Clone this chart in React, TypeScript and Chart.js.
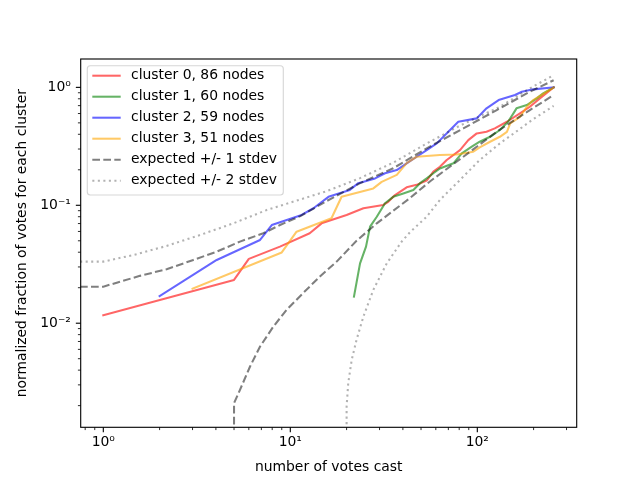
import React, { useEffect, useRef } from 'react';
import { Chart, registerables } from 'chart.js';

Chart.register(...registerables);

// === Data (x = votes cast, y = normalized fraction) ===
const CLUSTER_LABELS = [
  'cluster 0, 86 nodes',
  'cluster 1, 60 nodes',
  'cluster 2, 59 nodes',
  'cluster 3, 51 nodes',
];
const EXPECTED_LABELS = ['expected +/- 1 stdev', 'expected +/- 2 stdev'];

const C0_X = [1, 5, 6, 8.8, 12.7, 14.7, 20, 24.6, 31.4, 33.4, 36.3, 41.9, 47.4, 53.6, 58.2, 63.1, 68.6, 80.8, 89.5, 99.3, 112, 124, 144, 169, 191, 216, 256];
const C0_Y = [0.0117, 0.0233, 0.0351, 0.0446, 0.0579, 0.0703, 0.0828, 0.0944, 0.1006, 0.107, 0.122, 0.142, 0.149, 0.162, 0.193, 0.212, 0.242, 0.294, 0.357, 0.407, 0.42, 0.449, 0.511, 0.602, 0.685, 0.807, 1.0];

const C1_X = [21.9, 23.6, 25.4, 26.7, 29.0, 32.1, 35.5, 40.2, 45.5, 49.4, 53.6, 58.2, 63.1, 74.5, 82.6, 93.4, 103, 117, 132, 146, 156, 162, 184, 208, 225, 256];
const C1_Y = [0.0168, 0.0322, 0.0446, 0.0659, 0.08, 0.104, 0.118, 0.126, 0.135, 0.154, 0.169, 0.187, 0.205, 0.227, 0.276, 0.314, 0.346, 0.381, 0.435, 0.511, 0.602, 0.664, 0.708, 0.807, 0.889, 1.0];

const C2_X = [2, 4.04, 6.89, 7.96, 11.5, 13.3, 16.0, 20.8, 23.1, 28.4, 32.1, 37.1, 41.9, 47.4, 53.6, 60.7, 70.0, 79.1, 99.3, 112, 130, 159, 173, 199, 256];
const C2_Y = [0.017, 0.0344, 0.0508, 0.068, 0.0828, 0.0944, 0.118, 0.135, 0.154, 0.169, 0.187, 0.199, 0.227, 0.258, 0.294, 0.335, 0.42, 0.511, 0.546, 0.664, 0.78, 0.861, 0.918, 0.962, 1.0];

const C3_X = [3, 9.0, 10.8, 16.6, 18.8, 27.8, 30.8, 37.1, 41.9, 47.4, 63.1, 77.6, 95.2, 103, 117, 132, 144, 150, 169, 184, 199, 235, 256];
const C3_Y = [0.0196, 0.0398, 0.0597, 0.0776, 0.118, 0.139, 0.158, 0.181, 0.228, 0.258, 0.267, 0.27, 0.285, 0.31, 0.346, 0.381, 0.42, 0.495, 0.563, 0.685, 0.78, 0.918, 1.0];

const SD1_UP_X = [0.5, 1, 1.23, 1.57, 2.18, 3.03, 4.04, 5.38, 7.17, 8.81, 11.3, 15.7, 23.6, 35.5, 53.6, 84.2, 127, 191, 256];
const SD1_UP_Y = [0.0204, 0.0204, 0.0225, 0.0252, 0.0287, 0.0344, 0.0404, 0.0492, 0.0579, 0.068, 0.081, 0.109, 0.154, 0.206, 0.304, 0.449, 0.642, 0.918, 1.15];

const SD1_LO_X = [5, 5, 5.38, 6.09, 6.89, 8.11, 9.56, 11.7, 14.4, 17.7, 22.6, 29.0, 43.6, 56, 84.2, 127, 191, 256];
const SD1_LO_Y = [0.0002, 0.0021, 0.00272, 0.00429, 0.00634, 0.00935, 0.013, 0.018, 0.0249, 0.0333, 0.05, 0.0703, 0.115, 0.16, 0.258, 0.42, 0.642, 0.86];

const SD2_UP_X = [0.5, 1, 1.45, 2.18, 3.29, 4.96, 7.48, 11.3, 15.7, 23.6, 35.5, 53.6, 80, 132, 190, 256];
const SD2_UP_Y = [0.0333, 0.0333, 0.0379, 0.0452, 0.056, 0.0703, 0.0912, 0.112, 0.132, 0.17, 0.23, 0.334, 0.47, 0.685, 0.975, 1.27];

const SD2_LO_X = [20, 20, 20.4, 21.3, 22.6, 24.6, 27.8, 32.8, 39.4, 43.6, 53.6, 63.1, 80.8, 103, 132, 156, 200, 256];
const SD2_LO_Y = [0.0002, 0.00196, 0.0031, 0.00489, 0.00722, 0.0114, 0.0192, 0.0322, 0.0492, 0.059, 0.08, 0.111, 0.164, 0.242, 0.335, 0.405, 0.54, 0.695];

// === Ticks ===
const X_MAJOR = [1, 10, 100];
const X_MAJOR_LABELS = ['10⁰', '10¹', '10²'];
const X_MINOR = [0.8, 0.9, 2, 3, 4, 5, 6, 7, 8, 9, 20, 30, 40, 50, 60, 70, 80, 90, 200, 300];
const Y_MAJOR = [0.01, 0.1, 1];
const Y_MAJOR_LABELS = ['10⁻²', '10⁻¹', '10⁰'];
const Y_MINOR = [
  0.002, 0.003, 0.004, 0.005, 0.006, 0.007, 0.008, 0.009,
  0.02, 0.03, 0.04, 0.05, 0.06, 0.07, 0.08, 0.09,
  0.2, 0.3, 0.4, 0.5, 0.6, 0.7, 0.8, 0.9,
];

// === Styles ===
const FONT = 'DejaVu Sans';
const FS = 13.9;
const LW = 2.08;
const CLUSTER_COLORS = ['rgba(255,0,0,0.6)', 'rgba(0,128,0,0.6)', 'rgba(0,0,255,0.6)', 'rgba(255,165,0,0.6)'];
const DASHED = { color: 'rgba(0,0,0,0.5)', dash: [7.7, 3.3] };
const DOTTED = { color: 'rgba(0,0,0,0.3)', dash: [2.08, 3.44] };

const xy = (xs: number[], ys: number[]) => xs.map((x, i) => ({ x, y: ys[i] }));

const labelFor = (v: number, majors: number[], labels: string[]) => {
  const i = majors.findIndex(m => Math.abs(m - v) < m * 1e-6);
  return i >= 0 ? labels[i] : '';
};

// ticks, frame and legend, drawn like matplotlib
const axesDecor = {
  id: 'axesDecor',
  afterDraw(chart: any) {
    const { ctx, chartArea: a, scales } = chart;
    ctx.save();
    ctx.strokeStyle = '#000';

    const xTick = (v: number, len: number, w: number) => {
      const px = scales.x.getPixelForValue(v);
      ctx.lineWidth = w;
      ctx.beginPath();
      ctx.moveTo(px, a.bottom);
      ctx.lineTo(px, a.bottom + len);
      ctx.stroke();
    };
    const yTick = (v: number, len: number, w: number) => {
      const py = scales.y.getPixelForValue(v);
      ctx.lineWidth = w;
      ctx.beginPath();
      ctx.moveTo(a.left, py);
      ctx.lineTo(a.left - len, py);
      ctx.stroke();
    };
    X_MAJOR.forEach(v => xTick(v, 4.86, 1.11));
    X_MINOR.forEach(v => xTick(v, 2.78, 0.83));
    Y_MAJOR.forEach(v => yTick(v, 4.86, 1.11));
    Y_MINOR.forEach(v => yTick(v, 2.78, 0.83));

    // legend
    const bx = a.left + 6.6;
    const by = a.top + 6.7;
    const bw = 196;
    const bh = 129.3;
    const r = 3;
    ctx.beginPath();
    ctx.moveTo(bx + r, by);
    ctx.lineTo(bx + bw - r, by);
    ctx.quadraticCurveTo(bx + bw, by, bx + bw, by + r);
    ctx.lineTo(bx + bw, by + bh - r);
    ctx.quadraticCurveTo(bx + bw, by + bh, bx + bw - r, by + bh);
    ctx.lineTo(bx + r, by + bh);
    ctx.quadraticCurveTo(bx, by + bh, bx, by + bh - r);
    ctx.lineTo(bx, by + r);
    ctx.quadraticCurveTo(bx, by, bx + r, by);
    ctx.closePath();
    ctx.fillStyle = 'rgba(255,255,255,0.8)';
    ctx.fill();
    ctx.lineWidth = 1.11;
    ctx.strokeStyle = 'rgba(204,204,204,0.8)';
    ctx.stroke();

    const items = [
      ...CLUSTER_LABELS.map((label, i) => ({ label, color: CLUSTER_COLORS[i], dash: [] as number[] })),
      { label: EXPECTED_LABELS[0], ...DASHED },
      { label: EXPECTED_LABELS[1], ...DOTTED },
    ];
    ctx.font = `${FS}px "${FONT}"`;
    ctx.textBaseline = 'middle';
    ctx.textAlign = 'left';
    items.forEach((it, i) => {
      const ry = by + 10 + 21 * i;
      ctx.strokeStyle = it.color;
      ctx.lineWidth = LW;
      ctx.setLineDash(it.dash);
      ctx.lineCap = 'butt';
      ctx.beginPath();
      ctx.moveTo(bx + 5, ry);
      ctx.lineTo(bx + 33.4, ry);
      ctx.stroke();
      ctx.setLineDash([]);
      ctx.fillStyle = '#000';
      ctx.fillText(it.label, bx + 43.7, ry);
    });

    // frame
    ctx.strokeStyle = '#000';
    ctx.lineWidth = 1.11;
    ctx.strokeRect(a.left, a.top, a.right - a.left, a.bottom - a.top);
    ctx.restore();
  },
};

const VotesChart: React.FC = () => {
  const canvasRef = useRef<HTMLCanvasElement>(null);

  useEffect(() => {
    document.body.style.margin = '0';
    if (!canvasRef.current) return;

    const clusterSets = [
      [C0_X, C0_Y],
      [C1_X, C1_Y],
      [C2_X, C2_Y],
      [C3_X, C3_Y],
    ].map(([xs, ys], i) => ({
      label: CLUSTER_LABELS[i],
      data: xy(xs, ys),
      borderColor: CLUSTER_COLORS[i],
      borderWidth: LW,
      borderCapStyle: 'square' as const,
      borderJoinStyle: 'round' as const,
      pointRadius: 0,
      tension: 0,
      order: 5 - i,
    }));

    const expectedSets = [
      { data: xy(SD1_UP_X, SD1_UP_Y), style: DASHED },
      { data: xy(SD1_LO_X, SD1_LO_Y), style: DASHED },
      { data: xy(SD2_UP_X, SD2_UP_Y), style: DOTTED },
      { data: xy(SD2_LO_X, SD2_LO_Y), style: DOTTED },
    ].map((s, i) => ({
      label: i < 2 ? EXPECTED_LABELS[0] : EXPECTED_LABELS[1],
      data: s.data,
      borderColor: s.style.color,
      borderDash: s.style.dash,
      borderWidth: LW,
      borderCapStyle: 'butt' as const,
      pointRadius: 0,
      tension: 0,
      order: 0,
    }));

    const chart = new Chart(canvasRef.current, {
      type: 'line',
      data: { datasets: [...clusterSets, ...expectedSets] as any },
      options: {
        animation: false,
        responsive: false,
        layout: { padding: { top: 59, right: 63.3, bottom: 0, left: 0 } },
        plugins: { legend: { display: false }, tooltip: { enabled: false } },
        scales: {
          x: {
            type: 'logarithmic',
            min: 0.757,
            max: 340,
            bounds: 'data',
            afterBuildTicks: (s: any) => {
              s.ticks = [...X_MINOR, ...X_MAJOR].sort((p, q) => p - q).map(value => ({ value }));
            },
            afterFit: (s: any) => { s.height = 52.7; },
            ticks: {
              autoSkip: false,
              maxRotation: 0,
              padding: 1.5,
              color: '#000',
              font: { family: FONT, size: FS },
              callback: (v: any) => labelFor(Number(v), X_MAJOR, X_MAJOR_LABELS),
            },
            grid: { drawOnChartArea: false, color: 'transparent', tickLength: 4.86 },
            border: { display: false },
            title: {
              display: true,
              text: 'number of votes cast',
              color: '#000',
              font: { family: FONT, size: FS },
              padding: { top: 0, bottom: 4.5 },
            },
          },
          y: {
            type: 'logarithmic',
            min: 0.00131,
            max: 1.74,
            bounds: 'data',
            afterBuildTicks: (s: any) => {
              s.ticks = [...Y_MINOR, ...Y_MAJOR].sort((p, q) => p - q).map(value => ({ value }));
            },
            afterFit: (s: any) => { s.width = 80.7; },
            ticks: {
              autoSkip: false,
              padding: 5,
              color: '#000',
              font: { family: FONT, size: FS },
              callback: (v: any) => labelFor(Number(v), Y_MAJOR, Y_MAJOR_LABELS),
            },
            grid: { drawOnChartArea: false, color: 'transparent', tickLength: 4.86 },
            border: { display: false },
            title: {
              display: true,
              text: 'normalized fraction of votes for each cluster',
              color: '#000',
              font: { family: FONT, size: FS },
              padding: { top: 14.2, bottom: 0 },
            },
          },
        },
      },
      plugins: [axesDecor],
    });

    return () => {
      chart.destroy();
    };
  }, []);

  return (
    <div style={{ width: 640, height: 480, background: '#fff' }}>
      <canvas ref={canvasRef} width={640} height={480} />
    </div>
  );
};

export default function App() {
  return <VotesChart />;
}
